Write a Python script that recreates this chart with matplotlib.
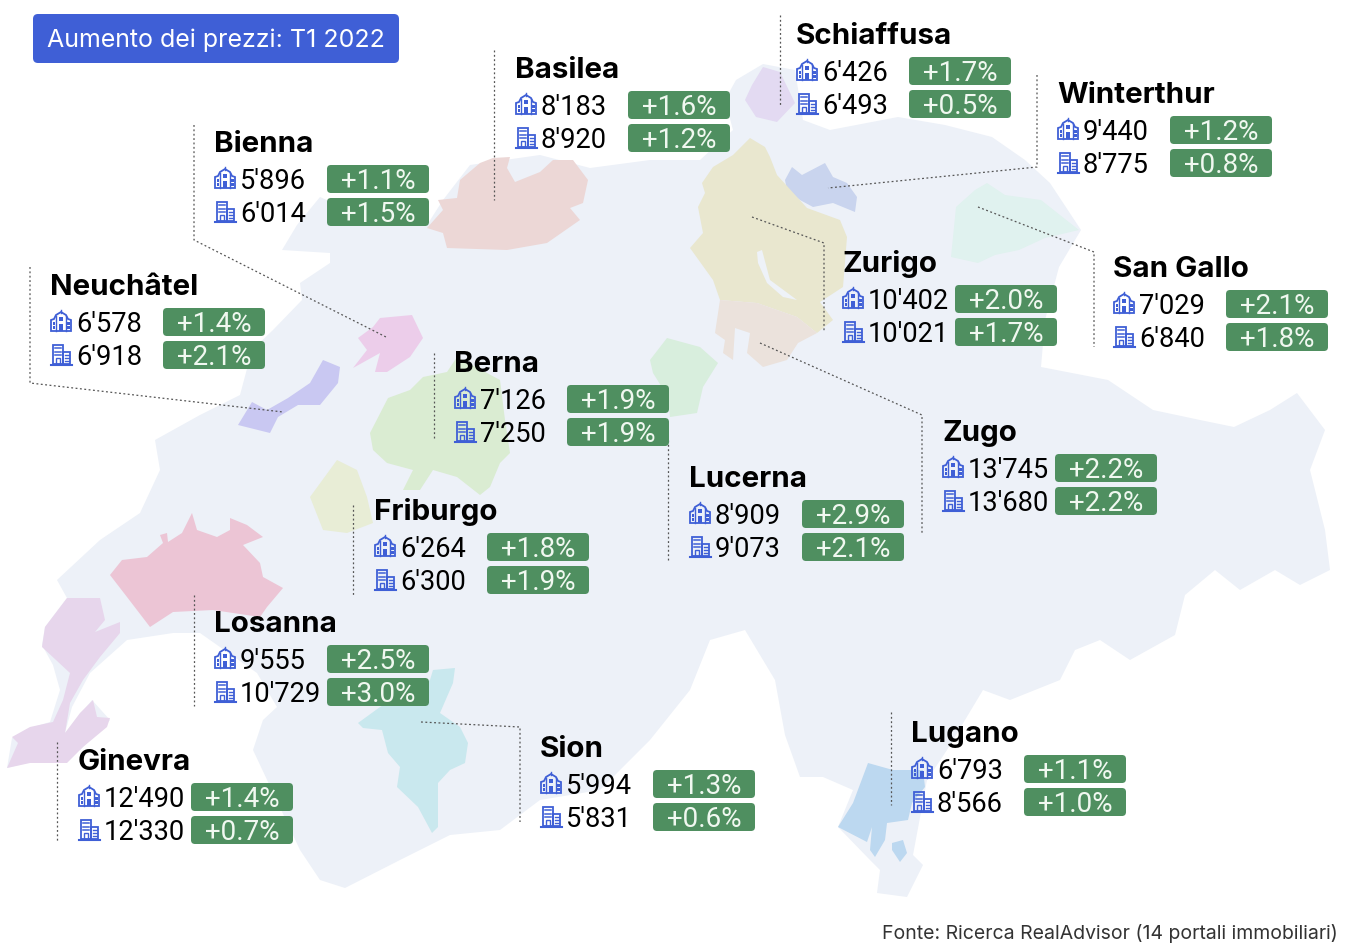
import matplotlib
matplotlib.use('Agg')
import matplotlib.pyplot as plt
from matplotlib.patches import Polygon, FancyBboxPatch, Rectangle

plt.rcParams['font.family'] = ['Inter', 'DejaVu Sans']

# data
cities = ['Schiaffusa', 'Basilea', 'Bienna', 'Winterthur', 'Neuchâtel', 'Zurigo', 'San Gallo', 'Berna',
          'Zugo', 'Lucerna', 'Friburgo', 'Losanna', 'Sion', 'Ginevra', 'Lugano']
house_prices = ["6'426", "8'183", "5'896", "9'440", "6'578", "10'402", "7'029", "7'126",
                "13'745", "8'909", "6'264", "9'555", "5'994", "12'490", "6'793"]
flat_prices = ["6'493", "8'920", "6'014", "8'775", "6'918", "10'021", "6'840", "7'250",
               "13'680", "9'073", "6'300", "10'729", "5'831", "12'330", "8'566"]
house_change = ['+1.7%', '+1.6%', '+1.1%', '+1.2%', '+1.4%', '+2.0%', '+2.1%', '+1.9%',
                '+2.2%', '+2.9%', '+1.8%', '+2.5%', '+1.3%', '+1.4%', '+1.1%']
flat_change = ['+0.5%', '+1.2%', '+1.5%', '+0.8%', '+2.1%', '+1.7%', '+1.8%', '+1.9%',
               '+2.2%', '+2.1%', '+1.9%', '+3.0%', '+0.6%', '+0.7%', '+1.0%']

# layout, in pixels of the picture
block_x = [797, 516, 215, 1058, 51, 843, 1114, 455, 943, 690, 375, 215, 541, 79, 912]
block_y = [34, 68, 142, 93, 285, 262, 267, 362, 431, 477, 510, 622, 747, 760, 732]

leaders = [
    [(780, 15), (780, 105)],
    [(494, 50), (494, 200)],
    [(194, 125), (194, 240), (388, 338)],
    [(1037, 75), (1037, 167), (828, 188)],
    [(30, 267), (30, 383), (283, 412)],
    [(752, 217), (824, 243), (824, 332)],
    [(978, 207), (1094, 252), (1094, 347)],
    [(434, 353), (434, 440)],
    [(760, 343), (922, 415), (922, 535)],
    [(668, 440), (668, 562)],
    [(353, 505), (353, 595)],
    [(194, 595), (194, 706)],
    [(421, 722), (520, 727), (520, 822)],
    [(57, 742), (57, 842)],
    [(891, 712), (891, 805)],
]

country = [(7, 768), (12, 738), (30, 728), (50, 722), (60, 690), (53, 665), (42, 645), (45, 627), (67, 598),
           (57, 580), (100, 540), (140, 513), (160, 470), (155, 440), (200, 415), (240, 395), (252, 350),
           (273, 330), (302, 300), (300, 283), (330, 263), (330, 253), (282, 250), (297, 225), (320, 197),
           (360, 215), (427, 225), (443, 200), (470, 165), (540, 155), (590, 168), (650, 160), (700, 160),
           (733, 130), (725, 100), (736, 80), (763, 64), (795, 70), (803, 120), (830, 130), (898, 117),
           (945, 125), (992, 137), (1025, 160), (1050, 183), (1081, 230), (1059, 267), (1045, 320), (1041, 367),
           (1108, 380), (1153, 410), (1200, 420), (1234, 427), (1270, 410), (1297, 393), (1325, 430), (1310, 470),
           (1325, 530), (1330, 570), (1300, 585), (1275, 570), (1240, 590), (1215, 570), (1185, 595), (1175, 635),
           (1130, 660), (1100, 640), (1075, 650), (1060, 680), (1010, 700), (983, 690), (947, 750), (927, 780),
           (913, 855), (923, 865), (907, 897), (877, 893), (880, 870), (870, 860), (838, 827), (853, 790),
           (823, 777), (800, 777), (785, 735), (775, 680), (745, 630), (710, 640), (690, 690), (650, 740),
           (600, 790), (540, 800), (500, 830), (450, 835), (400, 860), (345, 888), (320, 880), (300, 850),
           (253, 750), (263, 720), (277, 707), (257, 673), (200, 633), (173, 633), (127, 640), (90, 673),
           (72, 707), (65, 733), (92, 700), (110, 720), (80, 750)]

regions = {
    'Basilea': ('#ecd7d6', [(427, 228), (443, 210), (438, 200), (457, 198), (460, 180), (480, 163), (493, 158),
                            (510, 157), (507, 168), (515, 182), (540, 172), (553, 160), (573, 160), (588, 180),
                            (583, 203), (570, 208), (580, 220), (547, 243), (507, 250), (447, 248), (443, 233)]),
    'Schiaffusa': ('#e3daf2', [(745, 100), (752, 85), (763, 67), (780, 72), (795, 103), (777, 122), (756, 117)]),
    'Winterthur': ('#c9d4ee', [(785, 180), (792, 167), (802, 175), (825, 163), (833, 177), (847, 183), (857, 197),
                               (855, 212), (833, 203), (813, 207), (800, 200), (787, 190)]),
    'Zurigo': ('#e9e7cf', [(733, 155), (750, 138), (765, 147), (770, 157), (777, 175), (807, 208), (840, 220),
                           (847, 237), (843, 287), (820, 302), (833, 320), (817, 333), (797, 317), (757, 303),
                           (720, 300), (713, 280), (690, 248), (703, 233), (698, 207), (705, 193), (702, 183),
                           (713, 167)]),
    'Zurigo lake': ('#eef2f8', [(757, 252), (762, 250), (770, 280), (797, 300), (783, 297), (767, 283), (758, 263)]),
    'Zugo': ('#ebe2dc', [(720, 300), (757, 303), (797, 317), (817, 333), (798, 343), (787, 360), (763, 367),
                         (747, 353), (750, 333), (735, 328), (733, 360), (723, 353), (725, 340), (715, 333)]),
    'Lucerna': ('#d8eedd', [(650, 360), (667, 338), (700, 347), (718, 363), (703, 387), (697, 413), (670, 417),
                            (668, 397), (653, 373)]),
    'Berna': ('#daecd2', [(370, 433), (388, 398), (410, 390), (423, 377), (447, 372), (457, 357), (500, 380),
                          (505, 420), (510, 453), (500, 463), (490, 487), (480, 495), (457, 477), (433, 470),
                          (420, 490), (403, 490), (413, 470), (387, 463), (373, 450)]),
    'Friburgo': ('#e8edd6', [(310, 497), (337, 460), (357, 470), (367, 497), (373, 523), (347, 533), (323, 530)]),
    'Neuchatel': ('#c9c8f2', [(238, 425), (252, 402), (267, 410), (288, 398), (310, 383), (323, 360), (340, 367),
                              (338, 383), (320, 405), (298, 405), (278, 417), (270, 433), (250, 428)]),
    'Bienna': ('#eccdea', [(358, 338), (373, 327), (380, 318), (412, 315), (423, 338), (410, 357), (387, 372),
                           (375, 372), (380, 353), (353, 368), (367, 350)]),
    'Losanna': ('#ecc5d5', [(110, 575), (122, 560), (147, 557), (163, 543), (160, 535), (167, 533), (168, 542),
                            (182, 533), (192, 513), (197, 530), (217, 537), (230, 530), (230, 518), (247, 525),
                            (263, 537), (243, 545), (260, 563), (263, 577), (283, 588), (267, 607), (260, 617),
                            (213, 610), (173, 612), (150, 627), (127, 597)]),
    'Ginevra': ('#e7d6ec', [(67, 598), (100, 598), (105, 620), (95, 632), (120, 622), (120, 633), (100, 657),
                            (83, 680), (70, 703), (65, 733), (80, 713), (93, 700), (97, 717), (110, 718), (107, 727),
                            (83, 747), (67, 763), (30, 763), (7, 768), (18, 743), (12, 737), (30, 727), (53, 722),
                            (63, 700), (70, 673), (42, 647), (45, 627)]),
    'Sion': ('#c9e8ee', [(358, 723), (380, 707), (430, 680), (433, 670), (455, 668), (453, 683), (440, 713),
                         (460, 727), (468, 743), (465, 763), (450, 770), (438, 783), (438, 827), (432, 833),
                         (418, 807), (397, 787), (400, 767), (388, 753), (382, 730), (363, 728)]),
    'Lugano': ('#bcd8f0', [(838, 827), (853, 803), (868, 763), (893, 770), (923, 770), (925, 787), (912, 803),
                           (908, 820), (887, 823), (885, 840), (875, 857), (870, 850), (872, 827), (867, 842)]),
    'Lugano south': ('#bcd8f0', [(892, 843), (903, 840), (907, 853), (900, 862), (892, 850)]),
    'San Gallo': ('#e0f2ef', [(956, 207), (975, 190), (987, 183), (1005, 195), (1041, 200), (1060, 215), (1079, 230),
                              (1045, 238), (1019, 250), (995, 255), (978, 263), (951, 257)]),
}

BLUE = '#3f5fd6'
GREEN = '#4f8f60'


def draw_house(ax, x, y):
    # town house icon, centred on the row
    pts = [(x, y + 9), (x, y - 2), (x + 3, y - 3), (x + 5, y - 7), (x + 10, y - 10), (x + 15, y - 7),
           (x + 17, y - 3), (x + 20, y - 2), (x + 20, y + 9)]
    ax.add_patch(Polygon(pts, closed=True, fc='none', ec=BLUE, lw=1.3))
    ax.plot([x + 10, x + 10], [y - 12, y - 9], color=BLUE, lw=1)
    ax.plot([x + 5, x + 5], [y - 6, y + 9], color=BLUE, lw=1)
    ax.plot([x + 15, x + 15], [y - 6, y + 9], color=BLUE, lw=1)
    ax.add_patch(Rectangle((x + 8, y + 2), 4, 7, fc=BLUE, ec='none'))
    ax.add_patch(Rectangle((x + 8, y - 5), 4, 4, fc=BLUE, ec='none'))
    for wx in (x + 1.5, x + 16):
        for wy in (y, y + 4):
            ax.add_patch(Rectangle((wx, wy), 2.5, 2.5, fc=BLUE, ec='none'))


def draw_building(ax, x, y):
    # tall block with a lower one at its side
    ax.add_patch(Rectangle((x + 2, y - 10), 10, 19, fc='none', ec=BLUE, lw=1.3))
    ax.add_patch(Rectangle((x + 12, y - 3), 7, 12, fc='none', ec=BLUE, lw=1.3))
    ax.plot([x, x + 21], [y + 9.5, y + 9.5], color=BLUE, lw=1.5)
    for wy in (y - 7, y - 3.5, y):
        ax.plot([x + 4, x + 10], [wy, wy], color=BLUE, lw=1.1)
    ax.add_patch(Rectangle((x + 5, y + 3), 4, 6, fc='none', ec=BLUE, lw=1))
    for wy in (y, y + 3, y + 6):
        ax.plot([x + 14, x + 17.5], [wy, wy], color=BLUE, lw=1)


def draw_badge(ax, x, y, label):
    ax.add_patch(FancyBboxPatch((x + 3, y - 11), 96, 22, boxstyle='round,pad=3,rounding_size=4',
                                fc=GREEN, ec='none', zorder=3))
    ax.text(x + 51, y + 10, label, color='#f0f8f0', fontsize=20, family=['Roboto', 'DejaVu Sans'],
            ha='center', va='baseline', zorder=4)


fig = plt.figure(figsize=(13.6, 9.52), dpi=100)
ax = fig.add_axes([0, 0, 1, 1])
ax.set_xlim(0, 1360)
ax.set_ylim(952, 0)
ax.axis('off')

ax.add_patch(Polygon(country, closed=True, fc='#edf1f8', ec='none'))
for name, (col, pts) in regions.items():
    ax.add_patch(Polygon(pts, closed=True, fc=col, ec='none'))

for line in leaders:
    ax.plot([p[0] for p in line], [p[1] for p in line], color='#555555', lw=0.9, ls=(0, (1.5, 2)))

for i, city in enumerate(cities):
    x = block_x[i]
    y = block_y[i]
    ax.text(x - 1, y + 10, city, fontsize=21.3, fontweight='bold', color='black', ha='left', va='baseline')
    draw_house(ax, x, y + 37)
    draw_building(ax, x, y + 70)
    ax.text(x + 25, y + 47, house_prices[i], fontsize=19.6, family=['Roboto', 'DejaVu Sans'],
            color='black', ha='left', va='baseline')
    ax.text(x + 25, y + 80, flat_prices[i], fontsize=19.6, family=['Roboto', 'DejaVu Sans'],
            color='black', ha='left', va='baseline')
    draw_badge(ax, x + 112, y + 37, house_change[i])
    draw_badge(ax, x + 112, y + 70, flat_change[i])

ax.add_patch(FancyBboxPatch((37, 18), 358, 41, boxstyle='round,pad=4,rounding_size=5', fc=BLUE, ec='none'))
ax.text(47, 47, 'Aumento dei prezzi: T1 2022', color='white', fontsize=18, ha='left', va='baseline')
ax.text(1338, 939, 'Fonte: Ricerca RealAdvisor (14 portali immobiliari)', color='#333333', fontsize=14,
        ha='right', va='baseline')

fig.savefig('out.png', dpi=100)
